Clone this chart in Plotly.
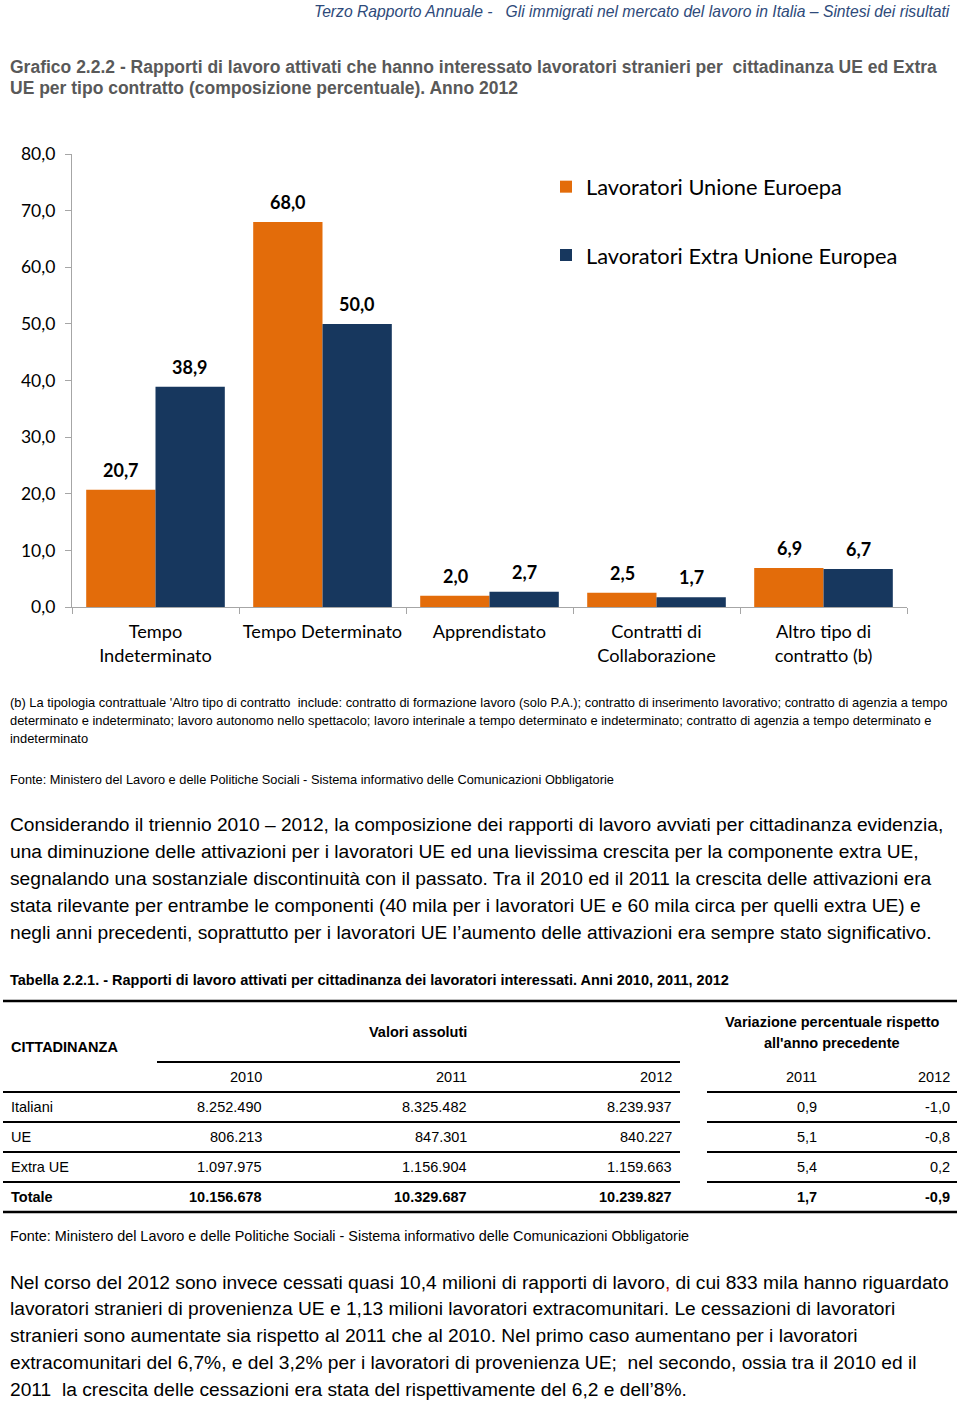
import plotly.graph_objects as go

# ---------------- data ----------------
categories = ["Tempo<br>Indeterminato", "Tempo Determinato", "Apprendistato",
              "Contratti di<br>Collaborazione", "Altro tipo di<br>contratto (b)"]
series_names = ["Lavoratori Unione Euroepa", "Lavoratori Extra Unione Europea"]
ue_values = [20.7, 68.0, 2.0, 2.5, 6.9]
extra_ue_values = [38.9, 50.0, 2.7, 1.7, 6.7]
y_ticks = [0, 10, 20, 30, 40, 50, 60, 70, 80]

table_rows = ["Italiani", "UE", "Extra UE", "Totale"]
abs_2010 = [8252490, 806213, 1097975, 10156678]
abs_2011 = [8325482, 847301, 1156904, 10329687]
abs_2012 = [8239937, 840227, 1159663, 10239827]
var_2011 = [0.9, 5.1, 5.4, 1.7]
var_2012 = [-1.0, -0.8, 0.2, -0.9]
year_labels_abs = ["2010", "2011", "2012"]
year_labels_var = ["2011", "2012"]

header_text = "Terzo Rapporto Annuale -   Gli immigrati nel mercato del lavoro in Italia – Sintesi dei risultati"
title_lines = [
    "Grafico 2.2.2 - Rapporti di lavoro attivati che hanno interessato lavoratori stranieri per  cittadinanza UE ed Extra",
    "UE per tipo contratto (composizione percentuale). Anno 2012",
]
footnote_lines = [
    "(b) La tipologia contrattuale 'Altro tipo di contratto  include: contratto di formazione lavoro (solo P.A.); contratto di inserimento lavorativo; contratto di agenzia a tempo",
    "determinato e indeterminato; lavoro autonomo nello spettacolo; lavoro interinale a tempo determinato e indeterminato; contratto di agenzia a tempo determinato e",
    "indeterminato",
]
source_text = "Fonte: Ministero del Lavoro e delle Politiche Sociali - Sistema informativo delle Comunicazioni Obbligatorie"
para1_lines = [
    "Considerando il triennio 2010 – 2012, la composizione dei rapporti di lavoro avviati per cittadinanza evidenzia,",
    "una diminuzione delle attivazioni per i lavoratori UE ed una lievissima crescita per la componente extra UE,",
    "segnalando una sostanziale discontinuità con il passato. Tra il 2010 ed il 2011 la crescita delle attivazioni era",
    "stata rilevante per entrambe le componenti (40 mila per i lavoratori UE e 60 mila circa per quelli extra UE) e",
    "negli anni precedenti, soprattutto per i lavoratori UE l’aumento delle attivazioni era sempre stato significativo.",
]
table_title = "Tabella 2.2.1. - Rapporti di lavoro attivati per cittadinanza dei lavoratori interessati. Anni 2010, 2011, 2012"
para2_lines = [
    "Nel corso del 2012 sono invece cessati quasi 10,4 milioni di rapporti di lavoro<span style='color:#C00000'>,</span> di cui 833 mila hanno riguardato",
    "lavoratori stranieri di provenienza UE e 1,13 milioni lavoratori extracomunitari. Le cessazioni di lavoratori",
    "stranieri sono aumentate sia rispetto al 2011 che al 2010. Nel primo caso aumentano per i lavoratori",
    "extracomunitari del 6,7%, e del 3,2% per i lavoratori di provenienza UE;  nel secondo, ossia tra il 2010 ed il",
    "2011  la crescita delle cessazioni era stata del rispettivamente del 6,2 e dell’8%.",
]

# ---------------- styling ----------------
W, H = 960, 1403
ORANGE = "#E36C0A"
NAVY = "#17375E"
AXIS_GRAY = "#A6A6A6"
CHART_FONT = "Lato, 'Open Sans', sans-serif"
NARROW = "'Liberation Sans', Arial, sans-serif"


def px(x):
    return x / W


def py(y):
    return 1 - y / H


def it_num(v, dec=0):
    s = f"{v:,.{dec}f}"
    return s.replace(",", "X").replace(".", ",").replace("X", ".")


fig = go.Figure()
colors = [ORANGE, NAVY]
for i, (name, vals) in enumerate(zip(series_names, [ue_values, extra_ue_values])):
    fig.add_trace(go.Bar(
        x=categories, y=vals, name=name, marker_color=colors[i],
        marker_line_width=0, legendgroup=f"g{i}",
    ))

annotations = []
# data labels
bar_half = 34.5
for i, vals in enumerate([ue_values, extra_ue_values]):
    shift = -bar_half if i == 0 else bar_half
    for c, v in zip(categories, vals):
        annotations.append(dict(
            x=c, y=v, xref="x", yref="y", xshift=shift, yshift=20,
            text=f"<b>{it_num(v, 1)}</b>", showarrow=False,
            font=dict(family=CHART_FONT, size=18, color="#000000"),
            xanchor="center", yanchor="middle",
        ))


def txt(x, y, text, size, family=NARROW, color="#000000", anchor="left", bold=False, italic=False):
    t = text
    if bold:
        t = f"<b>{t}</b>"
    if italic:
        t = f"<i>{t}</i>"
    annotations.append(dict(
        x=px(x), y=py(y), xref="paper", yref="paper", text=t, showarrow=False,
        xanchor=anchor, yanchor="middle", align=anchor,
        font=dict(family=family, size=size, color=color),
    ))


# header
txt(952, 11, header_text, 15.7, color="#2E4A7A", anchor="right", italic=True)
# title
for i, line in enumerate(title_lines):
    txt(8, 67 + i * 21, line, 17.5, color="#595959", bold=True)
# footnote
for i, line in enumerate(footnote_lines):
    txt(8, 702 + i * 18, line, 12.9)
txt(8, 779, source_text, 12.8)
# paragraph 1
for i, line in enumerate(para1_lines):
    txt(8, 825 + i * 26.8, line, 19.2)
# table title
txt(8, 980, table_title, 14.5, bold=True)

# table header
TS = 14.5
txt(9, 1047, "CITTADINANZA", TS, bold=True)
txt(418, 1032, "Valori assoluti", TS, anchor="center", bold=True)
txt(832, 1022, "Variazione percentuale rispetto", TS, anchor="center", bold=True)
txt(832, 1043, "all'anno precedente", TS, anchor="center", bold=True)
abs_x = [264, 469, 674]
var_x = [819, 952]
for xx, lab in zip(abs_x, year_labels_abs):
    txt(xx, 1077, lab, TS, anchor="right")
for xx, lab in zip(var_x, year_labels_var):
    txt(xx, 1077, lab, TS, anchor="right")
for r, name in enumerate(table_rows):
    yy = 1107 + r * 30
    bold = name == "Totale"
    txt(9, yy, name, TS, bold=bold)
    for xx, col in zip(abs_x, [abs_2010, abs_2011, abs_2012]):
        txt(xx, yy, it_num(col[r]), TS, anchor="right", bold=bold)
    for xx, col in zip(var_x, [var_2011, var_2012]):
        txt(xx, yy, it_num(col[r], 1), TS, anchor="right", bold=bold)
txt(8, 1236, source_text, 14.4)
# paragraph 2
for i, line in enumerate(para2_lines):
    txt(8, 1282 + i * 26.8, line, 19.2)

# table rules
shapes = []


def hline(x0, x1, y, w=2.2, color="#000000"):
    shapes.append(dict(type="line", xref="paper", yref="paper",
                       x0=px(x0), x1=px(x1), y0=py(y), y1=py(y),
                       line=dict(color=color, width=w)))


hline(3, 957, 1001, 2.6)
hline(157, 680, 1062, 2.2)
for yy in [1092, 1122, 1152, 1182]:
    hline(3, 680, yy, 2.2)
    hline(707, 957, yy, 2.2)
hline(3, 957, 1212, 2.6)

fig.update_layout(
    width=W, height=H, autosize=False,
    margin=dict(l=0, r=0, t=0, b=0, pad=0, autoexpand=False),
    paper_bgcolor="white", plot_bgcolor="white",
    separators=",.",
    barmode="group", bargap=0.17, bargroupgap=0,
    showlegend=True,
    legend=dict(
        x=px(546), y=py(166), xanchor="left", yanchor="top",
        font=dict(family=CHART_FONT, size=21.8, color="#000000"),
        tracegroupgap=37, bgcolor="rgba(0,0,0,0)",
    ),
    xaxis=dict(
        domain=[px(72), px(907)], showline=True, linecolor=AXIS_GRAY, linewidth=1.3,
        ticks="outside", tickson="boundaries", ticklen=6, tickcolor=AXIS_GRAY,
        ticklabelstandoff=8, tickangle=0,
        tickfont=dict(family=CHART_FONT, size=18.2, color="#000000"),
        showgrid=False, fixedrange=True,
    ),
    yaxis=dict(
        domain=[py(607), py(154)], range=[0, 80], showline=True, linecolor=AXIS_GRAY,
        linewidth=1.3, ticks="outside", ticklen=6, tickcolor=AXIS_GRAY,
        ticklabelstandoff=6,
        tickvals=y_ticks, tickformat=".1f",
        tickfont=dict(family=CHART_FONT, size=17.5, color="#000000"),
        showgrid=False, zeroline=False, fixedrange=True,
    ),
    annotations=annotations, shapes=shapes,
)

fig.write_html("out.html", config={"displayModeBar": False},
               post_script="document.body.style.margin='0';document.body.style.padding='0';")
